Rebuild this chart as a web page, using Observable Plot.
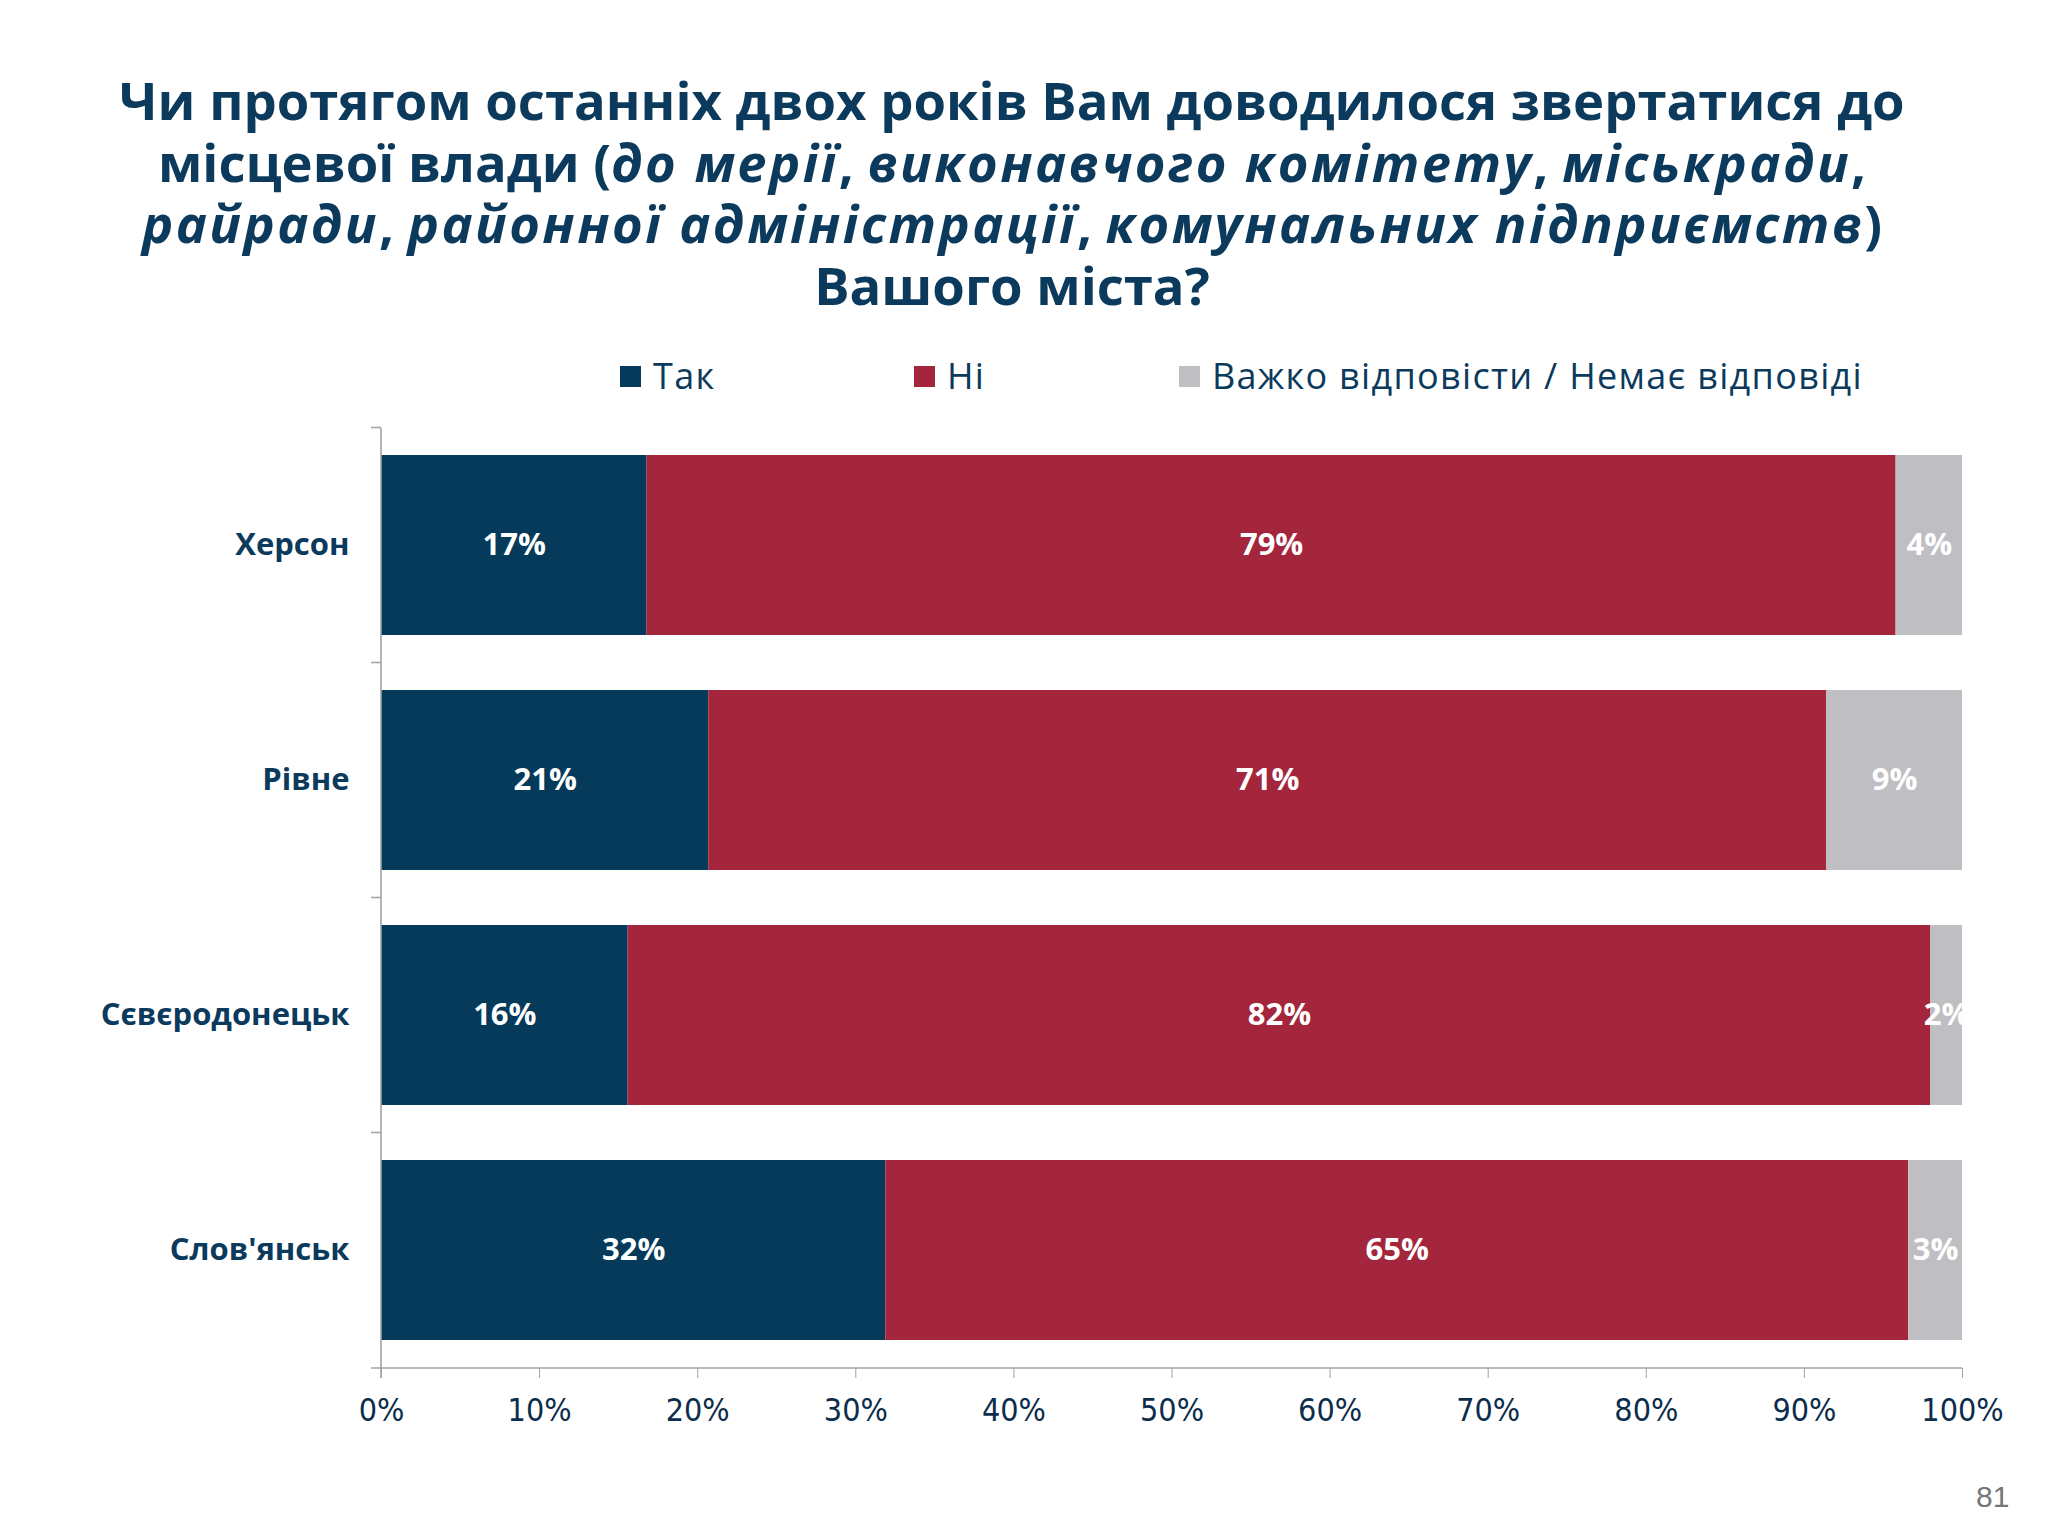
<!DOCTYPE html>
<html>
<head>
<meta charset="utf-8">
<script src="https://cdn.jsdelivr.net/npm/d3@7"></script>
<script src="https://cdn.jsdelivr.net/npm/@observablehq/plot@0.6"></script>
<style>
  html, body { margin: 0; padding: 0; background: #ffffff; }
  body { width: 2048px; height: 1536px; position: relative; overflow: hidden; font-family: "Open Sans", sans-serif; }
  #title { position: absolute; left: 0; top: 69px; width: 2024px; text-align: center; font-weight: 700;
           font-size: 52.6px; line-height: 61.5px; color: #0b3a5c; }
  #title i { font-style: italic; letter-spacing: 2.4px; }
  .item { position: absolute; top: 356px; height: 40px; line-height: 40px; font-size: 36px; letter-spacing: 1.3px;
          color: #0b3a5c; display: flex; align-items: center; white-space: nowrap; }
  .sw { width: 21px; height: 21px; margin-right: 12px; flex: none; }
  #chart { position: absolute; left: 0; top: 410px; }
  #page { position: absolute; left: 1976px; top: 1482px; font-family: "Liberation Sans", sans-serif;
          font-size: 30px; line-height: 30px; color: #777777; }
</style>
</head>
<body>
<div id="title">Чи протягом останніх двох років Вам доводилося звертатися до<br>місцевої влади (<i>до мерії</i>, <i>виконавчого комітету</i>, <i>міськради</i>,<br><i>райради</i>, <i>районної адміністрації</i>, <i>комунальних підприємств</i>)<br>Вашого міста?</div>
<div id="legend"></div>
<div id="chart"></div>
<div id="page">81</div>
<script>
// ---- data ----
const cities = ["Херсон", "Рівне", "Сєвєродонецьк", "Слов'янськ"];
const answers = ["Так", "Ні", "Важко відповісти / Немає відповіді"];
const yes  = [16.8, 20.7, 15.6, 31.9];
const no   = [79.0, 70.7, 82.4, 64.7];
const hard = [4.2, 8.6, 2.0, 3.4];
const xTicks = [0, 10, 20, 30, 40, 50, 60, 70, 80, 90, 100];

// ---- styles ----
const colors = ["#053a5b", "#a3263c", "#bfbec2"];
const legendX = [620, 914, 1179];

const series = [yes, no, hard];
const data = [];
cities.forEach((c, i) => {
  series.forEach((arr, j) => data.push({city: c, answer: answers[j], value: arr[i]}));
});

// legend
const legend = document.getElementById("legend");
answers.forEach((a, j) => {
  const it = document.createElement("div");
  it.className = "item";
  it.style.left = legendX[j] + "px";
  const sw = document.createElement("span");
  sw.className = "sw";
  sw.style.background = colors[j];
  it.appendChild(sw);
  it.appendChild(document.createTextNode(a));
  legend.appendChild(it);
});

function axisLines(index, scales, values, dims) {
  const {marginLeft: l, marginTop: t, marginBottom: b, marginRight: r, width: w, height: h} = dims;
  const y = scales.y;
  const bottom = h - b;
  const step = y(cities[1]) - y(cities[0]);
  const bw = y.bandwidth ? y.bandwidth() : step * (1 - 0.234);
  const g = d3.create("svg:g").attr("stroke", "#a3a3a3").attr("stroke-width", 1.6).attr("fill", "none");
  g.append("line").attr("x1", l).attr("x2", l).attr("y1", t).attr("y2", bottom + 10);
  g.append("line").attr("x1", l - 10).attr("x2", w - r).attr("y1", bottom).attr("y2", bottom);
  const bounds = cities.map(c => y(c) - (step - bw) / 2);
  bounds.forEach(yy => g.append("line").attr("x1", l - 10).attr("x2", l).attr("y1", yy).attr("y2", yy));
  return g.node();
}

const chart = Plot.plot({
  width: 2048,
  height: 1050,
  marginTop: 18,
  marginBottom: 92,
  marginLeft: 381,
  marginRight: 86,
  style: {fontFamily: "Open Sans, sans-serif", background: "transparent", overflow: "visible"},
  x: {domain: [0, 100]},
  y: {domain: cities, paddingInner: 0.234, paddingOuter: 0.117},
  color: {domain: answers, range: colors},
  marks: [
    Plot.barX(data, Plot.stackX({x: "value", y: "city", fill: "answer"})),
    Plot.text(data, Plot.stackX({
      x: "value", y: "city", z: "answer",
      text: d => Math.round(d.value) + "%",
      fill: "white", fontWeight: "bold", fontSize: 31, clip: true
    })),
    axisLines,
    Plot.axisX({ticks: xTicks, tickFormat: d => d + "%", tickSize: 10, tickPadding: 20,
                stroke: "#a3a3a3", fill: "#0c2d4c", fontSize: 32,
                fontFamily: "Liberation Sans Narrow, DejaVu Sans Condensed, sans-serif", label: null}),
    Plot.axisY({tickSize: 0, tickPadding: 32, fontSize: 31, fontWeight: "bold", fill: "#0b3a5c", label: null})
  ]
});
document.getElementById("chart").appendChild(chart);
</script>
</body>
</html>
